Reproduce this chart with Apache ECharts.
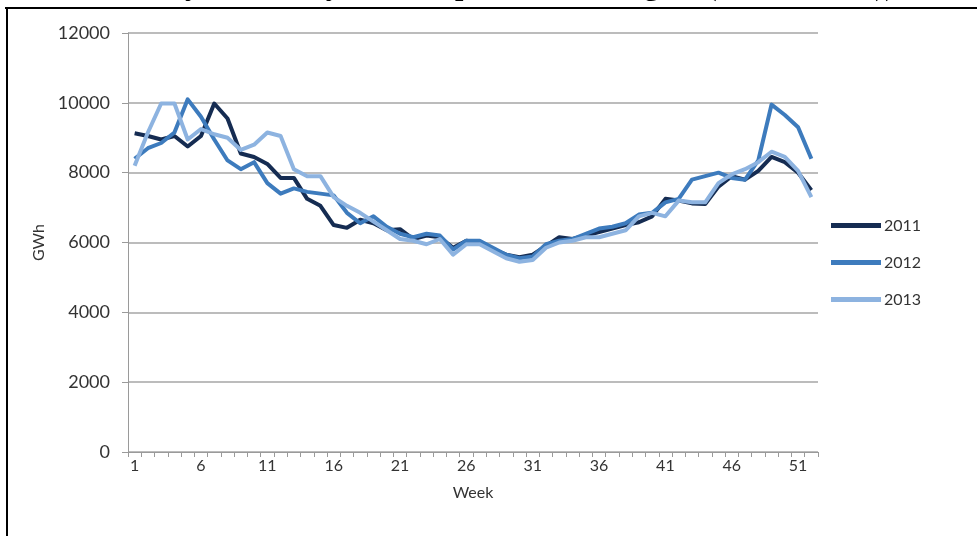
<!DOCTYPE html>
<html>
<head>
<meta charset="utf-8">
<title>Weekly consumption</title>
<script src="https://cdn.jsdelivr.net/npm/echarts@6/dist/echarts.min.js"></script>
<style>
  html, body { margin: 0; padding: 0; background: #ffffff; }
  #chart { width: 977px; height: 536px; }
</style>
</head>
<body>
<div id="chart"></div>
<script>
// Week numbers 1..52
const weeks = ['1','2','3','4','5','6','7','8','9','10','11','12','13','14','15','16','17','18','19','20',
  '21','22','23','24','25','26','27','28','29','30','31','32','33','34','35','36','37','38','39','40',
  '41','42','43','44','45','46','47','48','49','50','51','52'];

// Weekly consumption, GWh
const y2011 = [9130, 9050, 8950, 9050, 8750, 9050, 9980, 9550, 8550, 8450, 8250, 7850, 7850, 7250, 7050, 6500,
  6420, 6650, 6550, 6350, 6380, 6100, 6200, 6150, 5850, 6050, 6000, 5800, 5650, 5580, 5650, 5900,
  6150, 6100, 6200, 6300, 6400, 6500, 6580, 6750, 7250, 7200, 7120, 7100, 7600, 7900, 7800, 8050,
  8450, 8300, 8000, 7500];
const y2012 = [8400, 8700, 8850, 9150, 10100, 9600, 8950, 8350, 8100, 8300, 7700, 7400, 7550, 7450, 7400, 7350,
  6850, 6550, 6750, 6450, 6250, 6150, 6250, 6200, 5800, 6050, 6050, 5850, 5650, 5550, 5600, 5950,
  6050, 6100, 6250, 6400, 6450, 6550, 6800, 6850, 7150, 7250, 7800, 7900, 8000, 7850, 7800, 8350,
  9950, 9650, 9300, 8400];
const y2013 = [8200, 9150, 9980, 9980, 8950, 9250, 9100, 9000, 8650, 8800, 9150, 9050, 8100, 7900, 7900, 7300,
  7050, 6850, 6600, 6350, 6100, 6050, 5950, 6100, 5650, 5950, 5950, 5750, 5550, 5450, 5500, 5850,
  6000, 6050, 6150, 6150, 6250, 6350, 6750, 6850, 6750, 7200, 7150, 7150, 7700, 7950, 8100, 8300,
  8600, 8450, 8050, 7300];

const seriesNames = ['2011', '2012', '2013'];
const seriesColors = ['#152c52', '#3d7bbd', '#8db3e0'];

const labelFont = 'Lato, "Open Sans", sans-serif';
const labelColor = '#333333';

const chart = echarts.init(document.getElementById('chart'), null, { renderer: 'canvas' });

function lineSeries(name, data, color) {
  return {
    name: name,
    type: 'line',
    data: data,
    symbol: 'none',
    smooth: false,
    lineStyle: { width: 4, color: color, join: 'round' },
    itemStyle: { color: color }
  };
}

chart.setOption({
  animation: false,
  backgroundColor: '#ffffff',
  grid: { left: 128, right: 159, top: 33, bottom: 84, containLabel: false },
  legend: {
    orient: 'vertical',
    left: 826,
    top: 212,
    icon: 'rect',
    itemWidth: 50,
    itemHeight: 5,
    itemGap: 20,
    data: seriesNames,
    textStyle: { fontFamily: labelFont, fontSize: 16, color: labelColor, lineHeight: 17, padding: [0, 0, 0, -2] }
  },
  xAxis: {
    type: 'category',
    data: weeks,
    boundaryGap: true,
    name: 'Week',
    nameLocation: 'middle',
    nameGap: 33,
    nameTextStyle: { fontFamily: labelFont, fontSize: 16, color: labelColor },
    axisLine: { show: true, lineStyle: { color: '#9a9a9a', width: 1 } },
    axisTick: { show: true, interval: 0, length: 5, alignWithLabel: false, lineStyle: { color: '#9a9a9a' } },
    axisLabel: { interval: 4, margin: 6, fontFamily: labelFont, fontSize: 16, color: labelColor },
    splitLine: { show: false }
  },
  yAxis: {
    type: 'value',
    min: 0,
    max: 12000,
    interval: 2000,
    name: 'GWh',
    nameLocation: 'middle',
    nameGap: 80,
    nameRotate: 90,
    nameTextStyle: { fontFamily: labelFont, fontSize: 16, color: labelColor },
    axisLine: { show: true, lineStyle: { color: '#9a9a9a', width: 1 } },
    axisTick: { show: true, length: 6, lineStyle: { color: '#9a9a9a' } },
    axisLabel: {
      margin: 18, fontFamily: labelFont, fontSize: 18, color: labelColor,
      formatter: function (v) { return String(v); }
    },
    splitLine: { show: true, lineStyle: { color: '#a6a6a6', width: 1.5 } }
  },
  graphic: [
    // frame around the figure (top and left edges)
    { type: 'rect', shape: { x: 5, y: 7, width: 972, height: 2 }, style: { fill: '#000000' }, silent: true },
    { type: 'rect', shape: { x: 6, y: 7, width: 2, height: 529 }, style: { fill: '#000000' }, silent: true },
    // caption line above the frame, mostly cut off by the top edge
    {
      type: 'text', x: 500, y: 2, silent: true,
      style: {
        text: 'Weekly Electricity Consumption in the Region (2011 to 2013))',
        font: 'bold 30px "Liberation Serif", "DejaVu Serif", serif',
        fill: '#000000',
        align: 'center',
        verticalAlign: 'bottom'
      }
    }
  ],
  series: [
    lineSeries(seriesNames[0], y2011, seriesColors[0]),
    lineSeries(seriesNames[1], y2012, seriesColors[1]),
    lineSeries(seriesNames[2], y2013, seriesColors[2])
  ]
});
</script>
</body>
</html>
